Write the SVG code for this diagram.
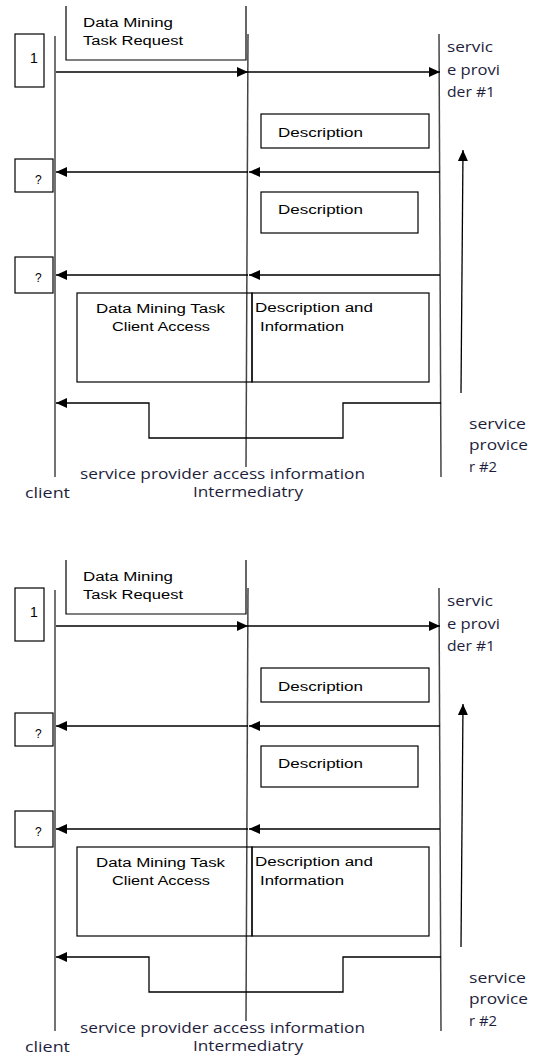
<svg xmlns="http://www.w3.org/2000/svg" width="538" height="1057" viewBox="0 0 538 1057">
<defs>
<marker id="ah" markerWidth="11" markerHeight="10" refX="11" refY="5" orient="auto" markerUnits="userSpaceOnUse"><path d="M0,0 L11,5 L0,10 z" fill="#000"/></marker>
<style>
.box{fill:none;stroke:#000;stroke-width:1.2}
.life{fill:none;stroke:#444;stroke-width:1.5}
.arr{fill:none;stroke:#000;stroke-width:1.3;marker-end:url(#ah)}
.bt{font-family:"Liberation Sans",Arial,sans-serif;font-size:12px;fill:#000}
.nt{font-family:"Liberation Sans",Arial,sans-serif;font-size:14px;fill:#000}
.lt{font-family:"Open Sans","Liberation Sans",sans-serif;font-size:14px;fill:#1e1e3c}
</style>
</defs>
<rect width="538" height="1057" fill="#fff"/>

<g id="copy1">
<g id="connectors1">
<line class="life" x1="55" y1="36" x2="55" y2="477"/>
<line class="life" x1="248" y1="34" x2="246" y2="467"/>
<line class="life" x1="439" y1="34" x2="441" y2="477"/>
<line class="arr" x1="56" y1="72" x2="248" y2="72"/>
<line class="arr" x1="248" y1="72" x2="440" y2="72"/>
<line class="arr" x1="440" y1="172" x2="249" y2="172"/>
<line class="arr" x1="248" y1="172" x2="56" y2="172"/>
<line class="arr" x1="440" y1="275" x2="249" y2="275"/>
<line class="arr" x1="248" y1="275" x2="56" y2="275"/>
<polyline class="arr" points="441,403 343,403 343,438 149,438 149,403 56,403"/>
<line class="arr" x1="461" y1="393" x2="463" y2="150"/>
</g>
<g id="req1"><path class="box" d="M66,6 V60 H246 V6"/><text class="bt" x="83" y="27" textLength="90" lengthAdjust="spacingAndGlyphs">Data Mining</text><text class="bt" x="83" y="45" textLength="100" lengthAdjust="spacingAndGlyphs">Task Request</text></g>
<g id="step1a"><rect class="box" x="15" y="34" width="29" height="53"/><text class="nt" x="30" y="63">1</text></g>
<g id="step2a"><rect class="box" x="15" y="159" width="38" height="33"/><text class="bt" x="35" y="184">?</text></g>
<g id="step3a"><rect class="box" x="15" y="257" width="38" height="36"/><text class="bt" x="35" y="282">?</text></g>
<g id="desc1a"><rect class="box" x="261" y="114" width="168" height="34"/><text class="bt" x="278" y="137" textLength="85" lengthAdjust="spacingAndGlyphs">Description</text></g>
<g id="desc2a"><rect class="box" x="261" y="192" width="157" height="41"/><text class="bt" x="278" y="214" textLength="85" lengthAdjust="spacingAndGlyphs">Description</text></g>
<g id="access1"><rect class="box" x="77" y="293" width="175" height="89"/><text class="bt" x="96" y="313" textLength="129" lengthAdjust="spacingAndGlyphs">Data Mining Task</text><text class="bt" x="112" y="331" textLength="98" lengthAdjust="spacingAndGlyphs">Client Access</text></g>
<g id="info1"><rect class="box" x="252" y="293" width="177" height="89"/><text class="bt" x="255" y="312" textLength="118" lengthAdjust="spacingAndGlyphs">Description and</text><text class="bt" x="260" y="331" textLength="84" lengthAdjust="spacingAndGlyphs">Information</text></g>
<g id="sp1a"><text class="lt" x="447" y="52" textLength="46" lengthAdjust="spacingAndGlyphs">servic</text><text class="lt" x="447" y="75" textLength="53" lengthAdjust="spacingAndGlyphs">e provi</text><text class="lt" x="447" y="97" textLength="48" lengthAdjust="spacingAndGlyphs">der #1</text></g>
<g id="sp2a"><text class="lt" x="469" y="429" textLength="57" lengthAdjust="spacingAndGlyphs">service</text><text class="lt" x="469" y="450" textLength="59" lengthAdjust="spacingAndGlyphs">provice</text><text class="lt" x="469" y="472" textLength="28" lengthAdjust="spacingAndGlyphs">r #2</text></g>
<g id="labels1"><text class="lt" x="80" y="479" textLength="285" lengthAdjust="spacingAndGlyphs">service provider access information</text><text class="lt" x="193" y="497" textLength="110" lengthAdjust="spacingAndGlyphs">Intermediatry</text><text class="lt" x="25" y="498" font-size="13" textLength="45" lengthAdjust="spacingAndGlyphs">client</text></g>
</g>

<g id="copy2" transform="translate(0,554)">
<g id="connectors2">
<line class="life" x1="55" y1="36" x2="55" y2="477"/>
<line class="life" x1="248" y1="34" x2="246" y2="467"/>
<line class="life" x1="439" y1="34" x2="441" y2="477"/>
<line class="arr" x1="56" y1="72" x2="248" y2="72"/>
<line class="arr" x1="248" y1="72" x2="440" y2="72"/>
<line class="arr" x1="440" y1="172" x2="249" y2="172"/>
<line class="arr" x1="248" y1="172" x2="56" y2="172"/>
<line class="arr" x1="440" y1="275" x2="249" y2="275"/>
<line class="arr" x1="248" y1="275" x2="56" y2="275"/>
<polyline class="arr" points="441,403 343,403 343,438 149,438 149,403 56,403"/>
<line class="arr" x1="461" y1="393" x2="463" y2="150"/>
</g>
<g id="req2"><path class="box" d="M66,6 V60 H246 V6"/><text class="bt" x="83" y="27" textLength="90" lengthAdjust="spacingAndGlyphs">Data Mining</text><text class="bt" x="83" y="45" textLength="100" lengthAdjust="spacingAndGlyphs">Task Request</text></g>
<g id="step1b"><rect class="box" x="15" y="34" width="29" height="53"/><text class="nt" x="30" y="63">1</text></g>
<g id="step2b"><rect class="box" x="15" y="159" width="38" height="33"/><text class="bt" x="35" y="184">?</text></g>
<g id="step3b"><rect class="box" x="15" y="257" width="38" height="36"/><text class="bt" x="35" y="282">?</text></g>
<g id="desc1b"><rect class="box" x="261" y="114" width="168" height="34"/><text class="bt" x="278" y="137" textLength="85" lengthAdjust="spacingAndGlyphs">Description</text></g>
<g id="desc2b"><rect class="box" x="261" y="192" width="157" height="41"/><text class="bt" x="278" y="214" textLength="85" lengthAdjust="spacingAndGlyphs">Description</text></g>
<g id="access2"><rect class="box" x="77" y="293" width="175" height="89"/><text class="bt" x="96" y="313" textLength="129" lengthAdjust="spacingAndGlyphs">Data Mining Task</text><text class="bt" x="112" y="331" textLength="98" lengthAdjust="spacingAndGlyphs">Client Access</text></g>
<g id="info2"><rect class="box" x="252" y="293" width="177" height="89"/><text class="bt" x="255" y="312" textLength="118" lengthAdjust="spacingAndGlyphs">Description and</text><text class="bt" x="260" y="331" textLength="84" lengthAdjust="spacingAndGlyphs">Information</text></g>
<g id="sp1b"><text class="lt" x="447" y="52" textLength="46" lengthAdjust="spacingAndGlyphs">servic</text><text class="lt" x="447" y="75" textLength="53" lengthAdjust="spacingAndGlyphs">e provi</text><text class="lt" x="447" y="97" textLength="48" lengthAdjust="spacingAndGlyphs">der #1</text></g>
<g id="sp2b"><text class="lt" x="469" y="429" textLength="57" lengthAdjust="spacingAndGlyphs">service</text><text class="lt" x="469" y="450" textLength="59" lengthAdjust="spacingAndGlyphs">provice</text><text class="lt" x="469" y="472" textLength="28" lengthAdjust="spacingAndGlyphs">r #2</text></g>
<g id="labels2"><text class="lt" x="80" y="479" textLength="285" lengthAdjust="spacingAndGlyphs">service provider access information</text><text class="lt" x="193" y="497" textLength="110" lengthAdjust="spacingAndGlyphs">Intermediatry</text><text class="lt" x="25" y="498" font-size="13" textLength="45" lengthAdjust="spacingAndGlyphs">client</text></g>
</g>
</svg>
